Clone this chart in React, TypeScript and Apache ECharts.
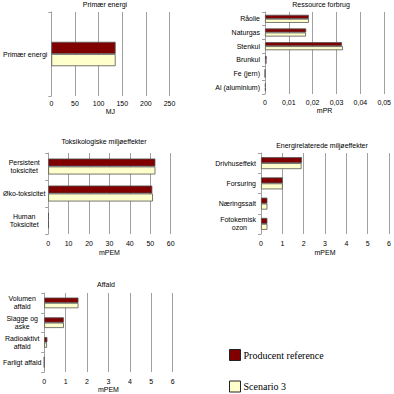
import React, { useEffect, useRef } from 'react';
import * as echarts from 'echarts';

// ---------- data ----------
const seriesNames = ['Producent reference', 'Scenario 3'];

const energyTitle = 'Primær energi';
const energyCategories = ['Primær energi'];
const energyRef = [136];
const energyScen = [136];
const energyUnit = 'MJ';
const energyMax = 250;
const energyInterval = 50;

const resourceTitle = 'Ressource forbrug';
const resourceCategories = ['Råolie', 'Naturgas', 'Stenkul', 'Brunkul', 'Fe (jern)', 'Al (aluminium)'];
const resourceRef = [0.0184, 0.0173, 0.0323, 0.0007, 0, 0.0003];
const resourceScen = [0.0184, 0.0172, 0.0327, 0.0007, 0, 0.0003];
const resourceUnit = 'mPR';
const resourceMax = 0.05;
const resourceInterval = 0.01;

const toxTitle = 'Toksikologiske miljøeffekter';
const toxCategories = ['Persistent\ntoksicitet', 'Øko-toksicitet', 'Human\nToksicitet'];
const toxRef = [52.5, 51.0, 0.3];
const toxScen = [52.5, 51.3, 0.3];
const toxUnit = 'mPEM';
const toxMax = 60;
const toxInterval = 10;

const enviTitle = 'Energirelaterede miljøeffekter';
const enviCategories = ['Drivhuseffekt', 'Forsuring', 'Næringssalt', 'Fotokemisk\nozon'];
const enviRef = [1.92, 1.02, 0.3, 0.3];
const enviScen = [1.9, 1.02, 0.3, 0.3];
const enviUnit = 'mPEM';
const enviMax = 6;
const enviInterval = 1;

const wasteTitle = 'Affald';
const wasteCategories = ['Volumen\naffald', 'Slagge og\naske', 'Radioaktivt\naffald', 'Farligt affald'];
const wasteRef = [1.6, 0.92, 0.15, 0];
const wasteScen = [1.6, 0.92, 0.13, 0];
const wasteUnit = 'mPEM';
const wasteMax = 6;
const wasteInterval = 1;

// ---------- styling / layout ----------
const FONT = '"Liberation Sans", Arial, sans-serif';
const SERIF = '"Liberation Serif", "Times New Roman", serif';
const DARK = '#800000';
const LIGHT = '#FFFFCC';
const BORDER = '#555555';
const GRID = '#a0a0a0';

const panels = [
  {
    title: energyTitle, cats: energyCategories, ref: energyRef, scen: energyScen, unit: energyUnit,
    max: energyMax, interval: energyInterval, comma: false,
    grid: { left: 46, top: 12, width: 123.5, height: 84 }, gap: '71%',
    labelAlign: 'right', labelMargin: 4, indent: 0, tickMargin: 4, nameGap: 12, tx: 105, ty: 1,
  },
  {
    title: resourceTitle, cats: resourceCategories, ref: resourceRef, scen: resourceScen, unit: resourceUnit,
    max: resourceMax, interval: resourceInterval, comma: true,
    grid: { left: 265, top: 12, width: 122, height: 82 }, gap: '41%',
    labelAlign: 'right', labelMargin: 5, indent: 0, tickMargin: 4.5, nameGap: 12.5, tx: 321, ty: 1,
  },
  {
    title: toxTitle, cats: toxCategories, ref: toxRef, scen: toxScen, unit: toxUnit,
    max: toxMax, interval: toxInterval, comma: false,
    grid: { left: 45, top: 153, width: 125.7, height: 81 }, gap: '41%',
    labelAlign: 'center', labelMargin: 24, indent: 0, tickMargin: 5.5, nameGap: 14.5, tx: 104, ty: 138,
  },
  {
    title: enviTitle, cats: enviCategories, ref: enviRef, scen: enviScen, unit: enviUnit,
    max: enviMax, interval: enviInterval, comma: false,
    grid: { left: 261, top: 153, width: 129.5, height: 81 }, gap: '41%',
    labelAlign: 'right', labelMargin: 5, indent: 9, tickMargin: 5.5, nameGap: 14.5, tx: 322, ty: 141.5,
  },
  {
    title: wasteTitle, cats: wasteCategories, ref: wasteRef, scen: wasteScen, unit: wasteUnit,
    max: wasteMax, interval: wasteInterval, comma: false,
    grid: { left: 42, top: 293, width: 130.7, height: 81 }, gap: '46%',
    labelAlign: 'center', labelMargin: 22, indent: 0, tickMargin: 6, nameGap: 13.5, tx: 106, ty: 281,
  },
];

const legendSlots = [
  { top: 349, textPadding: [0, 0, 0, -2] },
  { top: 377, textPadding: [8, 0, 0, -2] },
];

function buildOption() {
  const title: any[] = [];
  const grid: any[] = [];
  const xAxis: any[] = [];
  const yAxis: any[] = [];
  const series: any[] = [];

  panels.forEach((p, i) => {
    title.push({
      text: p.title,
      left: p.tx,
      top: p.ty,
      textAlign: 'center',
      padding: 0,
      textStyle: { fontFamily: FONT, fontSize: 7, fontWeight: 'normal', color: '#000' },
    });
    grid.push({ ...p.grid, containLabel: false });
    xAxis.push({
      type: 'value',
      gridIndex: i,
      min: 0,
      max: p.max,
      interval: p.interval,
      name: p.unit,
      nameLocation: 'middle',
      nameGap: p.nameGap,
      nameTextStyle: { fontFamily: FONT, fontSize: 7, color: '#000' },
      axisLine: { show: false },
      axisTick: { show: false },
      axisLabel: {
        margin: p.tickMargin,
        fontFamily: FONT,
        fontSize: 7,
        color: '#000',
        formatter: (v: number) => {
          if (!p.comma) return String(v);
          return v === 0 ? '0' : v.toFixed(2).replace('.', ',');
        },
      },
      splitLine: { show: true, lineStyle: { color: GRID, width: 1 } },
    });
    const labelCfg: any = {
      align: p.labelAlign,
      margin: p.labelMargin,
      fontFamily: FONT,
      fontSize: 7,
      lineHeight: 8,
      color: '#000',
    };
    if (p.indent) {
      labelCfg.formatter = (val: string) =>
        val
          .split('\n')
          .map((l, j) => (j === 0 ? `{a|${l}}` : `{b|${l}}`))
          .join('\n');
      labelCfg.rich = {
        a: { fontFamily: FONT, fontSize: 7, lineHeight: 8, color: '#000' },
        b: { fontFamily: FONT, fontSize: 7, lineHeight: 8, color: '#000', padding: [0, p.indent, 0, 0] },
      };
    }
    yAxis.push({
      type: 'category',
      gridIndex: i,
      inverse: true,
      data: p.cats,
      axisLine: { show: true, lineStyle: { color: GRID, width: 1 } },
      axisTick: { show: true, length: 3, lineStyle: { color: GRID } },
      axisLabel: labelCfg,
      splitLine: { show: false },
    });
    [p.ref, p.scen].forEach((vals, k) => {
      series.push({
        type: 'bar',
        name: seriesNames[k],
        xAxisIndex: i,
        yAxisIndex: i,
        data: vals,
        barGap: '0%',
        barCategoryGap: p.gap,
        itemStyle: { color: k === 0 ? DARK : LIGHT, borderColor: BORDER, borderWidth: 0.8 },
        emphasis: { disabled: true },
      });
    });
  });

  const legend = seriesNames.map((name, k) => ({
    data: [name],
    orient: 'vertical',
    left: 229,
    top: legendSlots[k].top,
    width: 150,
    height: 40,
    padding: 0,
    itemWidth: 11,
    itemHeight: 11,
    icon: 'rect',
    selectedMode: false,
    textStyle: {
      fontFamily: SERIF,
      fontSize: 10,
      color: '#000',
      lineHeight: 11,
      padding: legendSlots[k].textPadding,
    },
    itemStyle: { borderColor: '#222', borderWidth: 1 },
  }));

  return {
    animation: false,
    backgroundColor: '#fff',
    title,
    grid,
    xAxis,
    yAxis,
    series,
    legend,
  };
}

export default function App() {
  const ref = useRef<HTMLDivElement>(null);
  useEffect(() => {
    if (!ref.current) return;
    const chart = echarts.init(ref.current, undefined, { renderer: 'svg' });
    chart.setOption(buildOption() as any);
    return () => chart.dispose();
  }, []);
  return (
    <div
      ref={ref}
      style={{ position: 'absolute', left: 0, top: 0, width: 394, height: 394, background: '#fff' }}
    />
  );
}
